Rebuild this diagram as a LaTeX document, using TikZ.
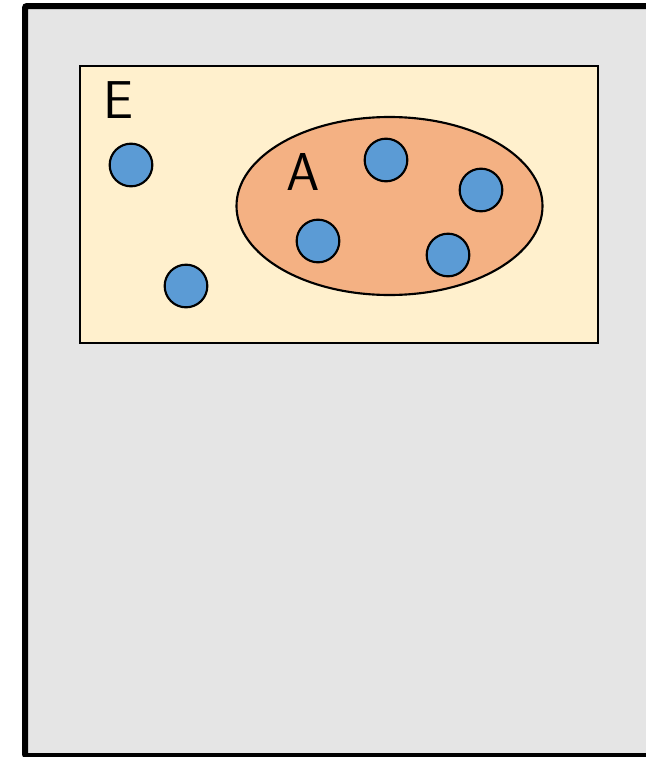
\documentclass[tikz,border=0pt]{standalone}
\usepackage{tikz}
\usetikzlibrary{shapes.geometric}
\definecolor{bggray}{RGB}{229,229,229}
\definecolor{setyellow}{RGB}{255,240,205}
\definecolor{setorange}{RGB}{244,177,131}
\definecolor{dotblue}{RGB}{91,155,213}
\tikzset{
  universe/.style={
    draw=black,
    line width=4.5pt,
    fill=bggray,
    rounded corners=1.5pt
  },
  setbox/.style={
    rectangle,
    draw=black,
    line width=1.6pt,
    fill=setyellow,
    inner sep=0pt
  },
  subset/.style={
    ellipse,
    draw=black,
    line width=1.6pt,
    fill=setorange,
    inner sep=0pt
  },
  element/.style={
    circle,
    draw=black,
    line width=1.6pt,
    fill=dotblue,
    minimum size=32pt,
    inner sep=0pt
  },
  setname/.style={
    font=\sffamily\fontsize{40}{40}\selectfont,
    inner sep=0pt
  }
}

\begin{document}
\begin{tikzpicture}[x=0.75pt,y=-0.75pt]
\useasboundingbox (0,0) rectangle (646,757);
\clip (0,0) rectangle (646,757);
\draw[universe] (25,6) rectangle (690,756);
\node[setbox, minimum width=388.5pt, minimum height=207.75pt] (E) at (339,204.5) {};
\node[subset, minimum width=229.5pt, minimum height=133.5pt] (A) at (389.5,206) {};
\node[setname] (Elbl) at (118.5,100.5) {E};
\node[setname] (Albl) at (303.5,171.5) {A};
% elements
\node[element] (e1) at (131,165) {};
\node[element] (e2) at (186,286) {};
\node[element] (a1) at (386,160) {};
\node[element] (a2) at (481,190) {};
\node[element] (a3) at (318,241) {};
\node[element] (a4) at (448,255) {};
\end{tikzpicture}
\end{document}
